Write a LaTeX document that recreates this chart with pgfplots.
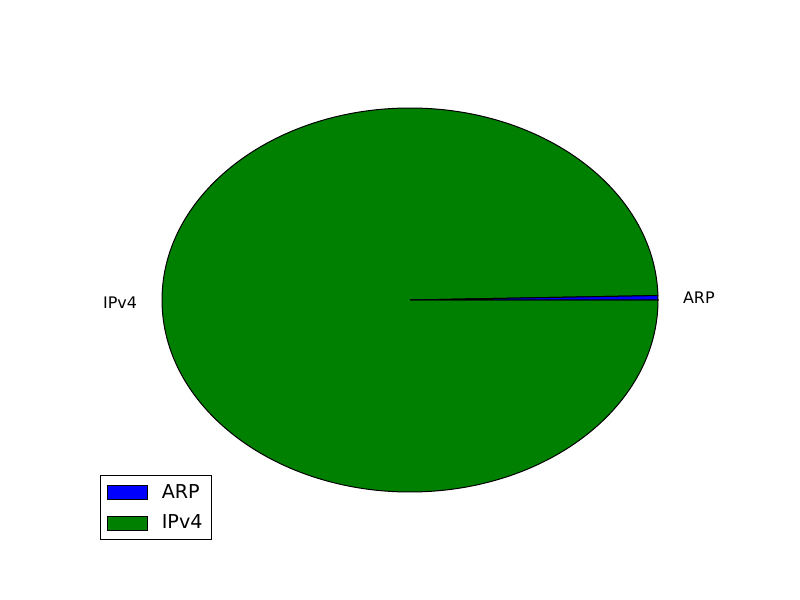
\documentclass[border=0pt]{standalone}
\usepackage{pgfplots}
\pgfplotsset{compat=1.18}
\usepackage{fontspec}
\setmainfont{DejaVu Sans}
\definecolor{mplblue}{HTML}{0000FF}
\definecolor{mplgreen}{HTML}{008000}

% packet counts by protocol (shares, percent)
\def\arp{0.37}
\def\ipv{99.63}

\begin{document}
\begin{tikzpicture}
\path[use as bounding box] (0,0) rectangle (600bp,450bp);
\begin{axis}[at={(75bp,45bp)}, anchor=south west, scale only axis,
  width=465bp, height=360bp, hide axis,
  xmin=-1.25, xmax=1.25, ymin=-1.25, ymax=1.25,
  legend style={at={(0,0)}, anchor=south west, draw=black, line width=0.75bp,
    fill=white, font=\fontsize{14.4}{17}\selectfont, inner xsep=5bp, inner ysep=4.5bp,
    row sep=7bp},
  legend cell align=left,
  /tikz/every odd column/.append style={column sep=8.5bp},
]
\pgfmathsetmacro{\aA}{360*\arp/100}
\fill[mplgreen, draw=black, line width=0.75bp] (axis cs:0,0) -- (axis cs:{cos(\aA)},{sin(\aA)})
  arc[start angle=\aA, end angle=360, x radius=1, y radius=1] -- cycle;
\fill[mplblue, draw=black, line width=0.75bp] (axis cs:0,0) -- (axis cs:1,0)
  arc[start angle=0, end angle=\aA, x radius=1, y radius=1] -- cycle;
\node[anchor=west, font=\fontsize{12}{14}\selectfont, inner sep=0pt]
  at (axis cs:{1.1*cos(\aA/2)},{1.1*sin(\aA/2)}) {ARP};
\node[anchor=east, font=\fontsize{12}{14}\selectfont, inner sep=0pt]
  at (axis cs:{1.1*cos(\aA+180-\aA/2)},{1.1*sin(\aA+180-\aA/2)}) {IPv4};
\addlegendimage{legend image code/.code={\draw[fill=mplblue, draw=black, line width=0.5bp] (0bp,-5.25bp) rectangle (30bp,5.25bp);}}
\addlegendentry{ARP}
\addlegendimage{legend image code/.code={\draw[fill=mplgreen, draw=black, line width=0.5bp] (0bp,-5.25bp) rectangle (30bp,5.25bp);}}
\addlegendentry{IPv4}
\end{axis}
\end{tikzpicture}
\end{document}
